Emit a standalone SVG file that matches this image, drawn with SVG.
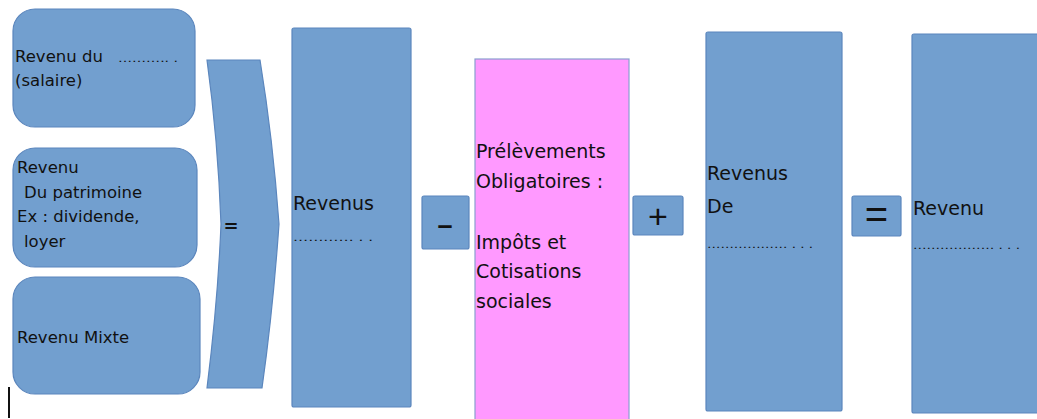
<svg xmlns="http://www.w3.org/2000/svg" width="1037" height="419" viewBox="0 0 1037 419">
<style>
.b{fill:#729fcf;stroke:#5b86bd;stroke-width:1.2}
.p{fill:#ff99ff;stroke:#8a9fd0;stroke-width:1.2}
text{font-family:"DejaVu Sans","Liberation Sans",sans-serif;fill:#111}
.t{font-size:16.5px}
.t2{font-size:19px}
.d{font-size:11px}
.op{font-family:"Liberation Sans",sans-serif;text-anchor:middle}
</style>
<rect width="1037" height="419" fill="#fff"/>
<g id="n-salaire">
<rect class="b" x="13" y="9" width="182" height="118" rx="22"/>
<text class="t" x="15" y="62">Revenu du</text>
<text class="d" x="118" y="62" textLength="60" lengthAdjust="spacingAndGlyphs">……….. .</text>
<text class="t" x="15" y="86">(salaire)</text>
</g>
<g id="n-patrimoine">
<rect class="b" x="13" y="148" width="184" height="119" rx="22"/>
<text class="t" x="17" y="173">Revenu</text>
<text class="t" x="24" y="198">Du patrimoine</text>
<text class="t" x="17" y="222">Ex : dividende,</text>
<text class="t" x="24" y="247">loyer</text>
</g>
<g id="n-mixte">
<rect class="b" x="13" y="277" width="187" height="117" rx="22"/>
<text class="t" x="17" y="343">Revenu Mixte</text>
</g>
<g id="n-chevron">
<path class="b" d="M207,60 L260,60 Q273,140 279,224 Q273,310 262,388 L207,388 Q218,300 221,224 Q218,140 207,60 Z"/>
<text x="231" y="232" style="font-size:18px;font-weight:bold;text-anchor:middle">=</text>
</g>
<g id="n-revenus">
<rect class="b" x="292" y="28" width="119" height="379" rx="2"/>
<text class="t2" x="293" y="210">Revenus</text>
<text class="d" x="293" y="241" textLength="80" lengthAdjust="spacingAndGlyphs">………… . .</text>
</g>
<g id="n-moins">
<rect class="b" x="422" y="196" width="47" height="53" rx="2"/>
<text class="op" x="445" y="234" style="font-size:27px;font-weight:bold">–</text>
</g>
<g id="n-prelevements">
<rect class="p" x="475" y="59" width="154" height="370"/>
<text class="t2" x="476" y="158">Prélèvements</text>
<text class="t2" x="476" y="188">Obligatoires :</text>
<text class="t2" x="476" y="249">Impôts et</text>
<text class="t2" x="476" y="278">Cotisations</text>
<text class="t2" x="476" y="308">sociales</text>
</g>
<g id="n-plus">
<rect class="b" x="633" y="196" width="50" height="39" rx="2"/>
<text class="op" x="658" y="228" style="font-size:34px">+</text>
</g>
<g id="n-revenus-de">
<rect class="b" x="706" y="32" width="136" height="379" rx="2"/>
<text class="t2" x="707" y="180">Revenus</text>
<text class="t2" x="707" y="213">De</text>
<text class="d" x="707" y="248" textLength="106" lengthAdjust="spacingAndGlyphs">……………… . . .</text>
</g>
<g id="n-egal">
<rect class="b" x="852" y="196" width="49" height="40" rx="2"/>
<text class="op" x="876.5" y="228" style="font-size:40px">=</text>
</g>
<g id="n-revenu">
<rect class="b" x="912" y="34" width="140" height="379" rx="2"/>
<text class="t2" x="913" y="215">Revenu</text>
<text class="d" x="913" y="249" textLength="107" lengthAdjust="spacingAndGlyphs">……………… . . .</text>
</g>
<g id="connectors"></g>
<line x1="9" y1="387" x2="9" y2="418" stroke="#111" stroke-width="2"/>
</svg>
